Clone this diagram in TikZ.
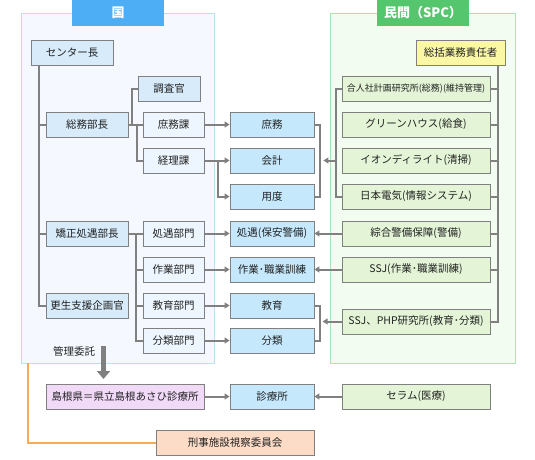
\documentclass[tikz,border=0pt]{standalone}
\usepackage{fontspec}
\setmainfont{Noto Sans CJK JP}
\usepackage{xcolor}
\usetikzlibrary{arrows.meta, calc, shadows}
\definecolor{kunitab}{HTML}{4DAEF5}
\definecolor{kunibg}{HTML}{F5F9FF}
\definecolor{kuniline}{HTML}{B9E0F7}
\definecolor{spctab}{HTML}{55C66E}
\definecolor{spcbg}{HTML}{F3FCF1}
\definecolor{spcline}{HTML}{A9E5B2}
\definecolor{lvone}{HTML}{D7EBFA}
\definecolor{lvtwo}{HTML}{EDF6FE}
\definecolor{midblue}{HTML}{C5E8FC}
\definecolor{spcgreen}{HTML}{E4F5D7}
\definecolor{chiefyellow}{HTML}{FAF7A5}
\definecolor{clinicpurple}{HTML}{F1D9F8}
\definecolor{boardorange}{HTML}{FCDCC7}
\definecolor{orangeline}{HTML}{F6AB5A}
\definecolor{linecol}{HTML}{808080}
\definecolor{textcol}{HTML}{222222}

\begin{document}
\begin{tikzpicture}[x=1pt, y=-1pt,
	box/.style={draw=linecol, line width=0.8pt, minimum height=25pt, inner sep=0pt, text=textcol,
		font=\fontsize{10.5}{12}\selectfont,
		drop shadow={shadow xshift=1pt, shadow yshift=-1pt, opacity=.18}},
	tab/.style={minimum height=26pt, inner sep=0pt, text=white, font=\fontsize{13}{14}\selectfont\bfseries},
	panel/.style={line width=0.8pt, inner sep=0pt},
	conn/.style={draw=linecol, line width=2pt},
	arr/.style={conn, -{Triangle[length=5pt, width=6pt]}},
	bigarr/.style={draw=linecol, line width=5pt, -{Triangle[length=8pt, width=13pt]}}]
	\useasboundingbox (0,0) rectangle (535,460);
	\node[panel, draw=kuniline, fill=kunibg, minimum width=193pt, minimum height=350pt] (kunipanel) at (117.5,188) {};
	\node[panel, draw=spcline, fill=spcbg, minimum width=185pt, minimum height=350pt] (spcpanel) at (422.5,188) {};
	\node[tab, fill=kunitab, minimum width=92pt] (kuni) at (118,13) {国};
	\node[tab, fill=spctab, minimum width=92pt] (spc) at (423,13) {民間（SPC）};

	\node[box, fill=lvone, minimum width=82pt] (center) at (72,52.5) {センター長};
	\node[box, fill=lvone, minimum width=82pt] (somu) at (87,124.5) {総務部長};
	\node[box, fill=lvone, minimum width=82pt] (kyosei) at (87,233.5) {矯正処遇部長};
	\node[box, fill=lvone, minimum width=82pt] (kosei) at (87,305.5) {更生支援企画官};
	\node[box, fill=lvone, minimum width=62pt] (chosa) at (169,88.5) {調査官};
	\node[box, fill=lvtwo, minimum width=61pt] (shomuka) at (173.5,124.5) {庶務課};
	\node[box, fill=lvtwo, minimum width=61pt] (keirika) at (173.5,160.5) {経理課};
	\node[box, fill=lvtwo, minimum width=61pt] (shogu) at (173.5,233.5) {処遇部門};
	\node[box, fill=lvtwo, minimum width=61pt] (sagyo) at (173.5,269.5) {作業部門};
	\node[box, fill=lvtwo, minimum width=61pt] (kyoiku) at (173.5,305.5) {教育部門};
	\node[box, fill=lvtwo, minimum width=61pt] (bunrui) at (173.5,340.5) {分類部門};

	\node[box, fill=midblue, minimum width=84pt] (shomu) at (272,124.5) {庶務};
	\node[box, fill=midblue, minimum width=84pt] (kaikei) at (272,160.5) {会計};
	\node[box, fill=midblue, minimum width=84pt] (yodo) at (272,196.5) {用度};
	\node[box, fill=midblue, minimum width=84pt] (shoguM) at (272,233.5) {処遇(保安警備)};
	\node[box, fill=midblue, minimum width=84pt] (sagyoM) at (272,269.5) {作業･職業訓練};
	\node[box, fill=midblue, minimum width=84pt] (kyoikuM) at (272,305.5) {教育};
	\node[box, fill=midblue, minimum width=84pt] (bunruiM) at (272,340.5) {分類};
	\node[box, fill=midblue, minimum width=84pt] (shinryo) at (272,396.5) {診療所};

	\node[box, fill=chiefyellow, minimum width=89pt] (sokatsu) at (460.5,52.5) {総括業務責任者};
	\node[box, fill=spcgreen, minimum width=148pt, font=\fontsize{9}{10}\selectfont] (gojin) at (416,88.5) {合人社計画研究所(総務)(維持管理)};
	\node[box, fill=spcgreen, minimum width=148pt] (green) at (416,124.5) {グリーンハウス(給食)};
	\node[box, fill=spcgreen, minimum width=148pt] (aeon) at (416,160.5) {イオンディライト(清掃)};
	\node[box, fill=spcgreen, minimum width=148pt] (nec) at (416,196.5) {日本電気(情報システム)};
	\node[box, fill=spcgreen, minimum width=148pt] (sogo) at (416,233.5) {綜合警備保障(警備)};
	\node[box, fill=spcgreen, minimum width=148pt] (ssj) at (416,269.5) {SSJ(作業･職業訓練)};
	\node[box, fill=spcgreen, minimum width=148pt] (php) at (416,321.5) {SSJ、PHP研究所(教育･分類)};
	\node[box, fill=spcgreen, minimum width=148pt] (seram) at (416,396.5) {セラム(医療)};

	\node[box, fill=clinicpurple, minimum width=158pt] (shimane) at (125,396.5) {島根県＝県立島根あさひ診療所};
	\node[box, fill=boardorange, minimum width=158pt] (iinkai) at (235,442.5) {刑事施設視察委員会};
	\node[text=textcol, font=\fontsize{10.5}{12}\selectfont] (kanri) at (74,351) {管理委託};
	\coordinate (kanritop) at (103.5,346);
	\coordinate (kanribot) at (103.5,379);

	\draw[conn] (center.south west) ++(8,0) |- (kosei.west);
	\draw[conn] (somu.west) -- ++(-7,0);
	\draw[conn] (kyosei.west) -- ++(-7,0);
	\draw[conn] (somu.east) -- (shomuka.west);
	\draw[conn] (somu.east) ++(4,0) |- (chosa.west);
	\draw[conn] (somu.east) ++(9,0) |- (keirika.west);
	\draw[conn] (kyosei.east) -- (shogu.west);
	\draw[conn] (kyosei.east) ++(8,0) |- (bunrui.west);
	\foreach \n in {sagyo, kyoiku}
		\draw[conn] (\n.west) -- ++(-7,0);
	\foreach \a/\b in {shomuka/shomu, keirika/kaikei, shogu/shoguM, sagyo/sagyoM, kyoiku/kyoikuM, bunrui/bunruiM, shimane/shinryo, sogo/shoguM, ssj/sagyoM, seram/shinryo}
		\draw[arr] (\a) -- (\b);
	\draw[arr] (keirika.east) ++(14,0) |- (yodo.west);
	\draw[conn] (shomu.east) -- ++(6,0) |- (yodo.east);
	\draw[conn] (kyoikuM.east) -- ++(6,0) |- (bunruiM.east);
	\draw[conn] (gojin.west) -- ++(-6,0) |- (nec.west);
	\draw[arr] (aeon.west) ++(-6,0) -- ($(kaikei.east)+(9,0)$);
	\draw[arr] (php.west) -- ($(php.west)+(-19,0)$);
	\draw[conn] (sokatsu.south east) ++(-7,0) |- (php.east);
	\foreach \n in {gojin, green, aeon, nec, sogo, ssj}
		\draw[conn] (\n.east) -- ++(8,0);
	\draw[bigarr] (kanritop) -- (kanribot);
	\draw[draw=orangeline, line width=2pt] (kunipanel.south west) ++(7,0) |- (iinkai.west);
\end{tikzpicture}
\end{document}
